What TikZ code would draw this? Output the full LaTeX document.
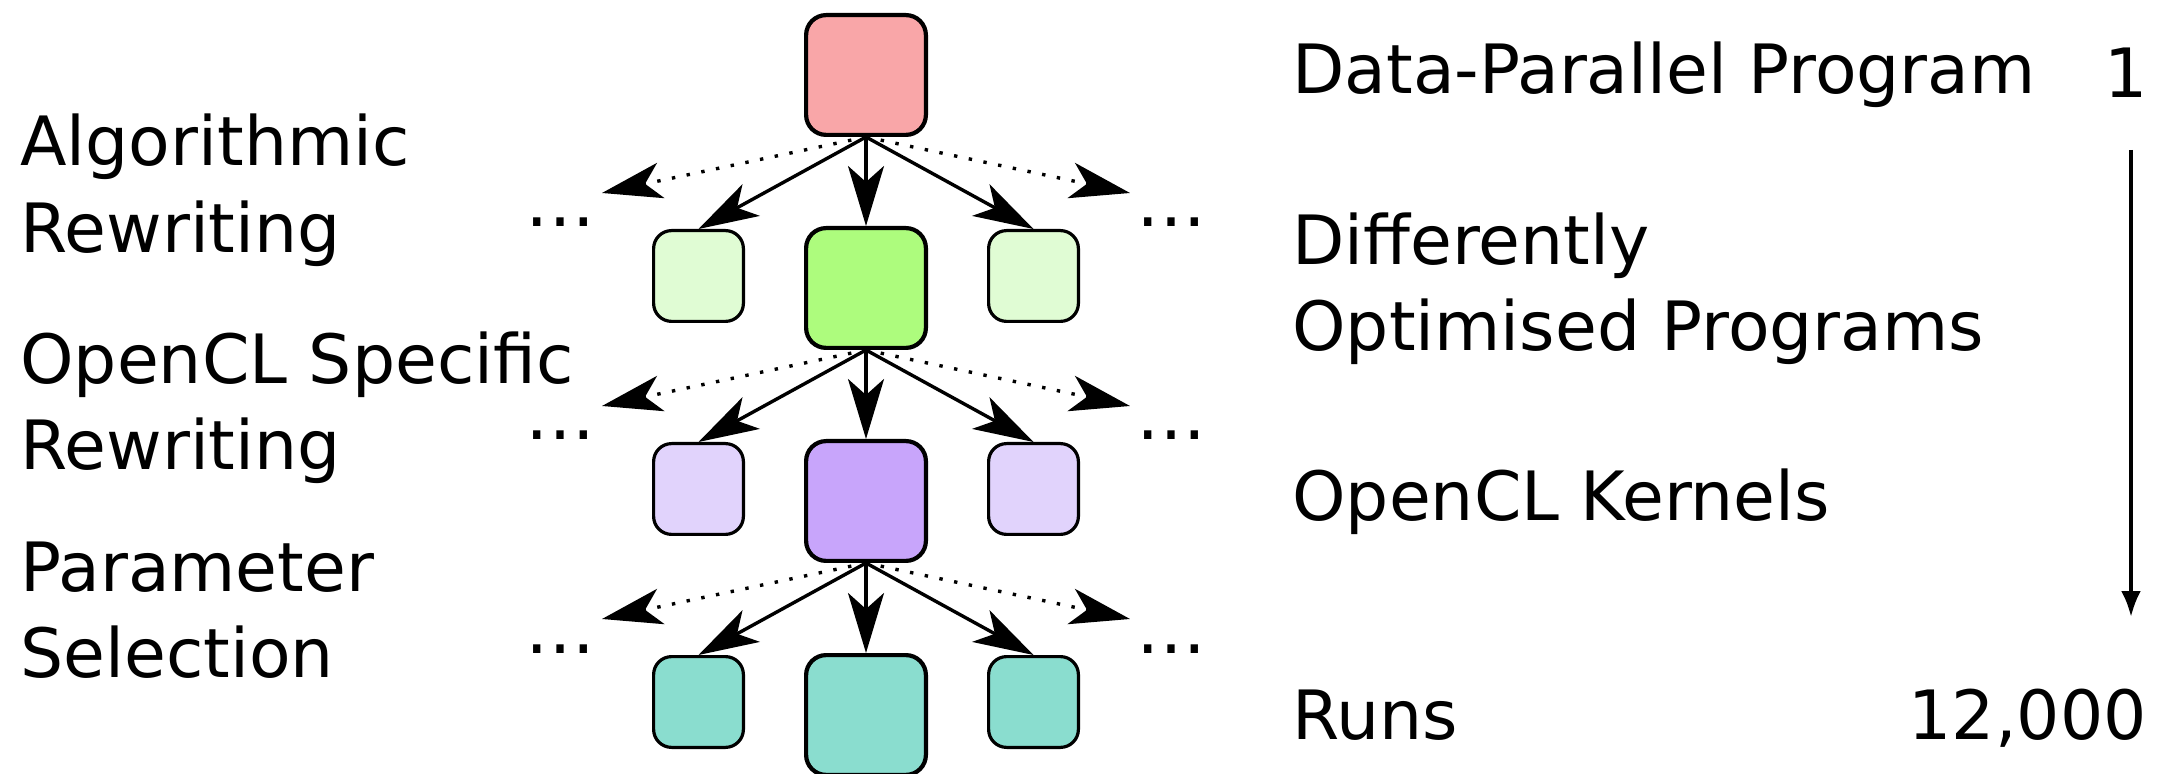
\documentclass[tikz,border=0pt]{standalone}
\usepackage{fontspec}
\setmainfont{DejaVu Sans}
\usetikzlibrary{arrows.meta}
\definecolor{cred}{HTML}{F9A6A8}
\definecolor{cgreen}{HTML}{ADFC7D}
\definecolor{cgreenl}{HTML}{E0FCD4}
\definecolor{cpurp}{HTML}{C8A5FB}
\definecolor{cpurpl}{HTML}{E1D3FC}
\definecolor{cteal}{HTML}{8ADDCF}
\begin{document}
\begin{tikzpicture}[x=0.5pt,y=-0.5pt,
  bigbox/.style={draw,line width=2.1pt,rounded corners=10pt,minimum width=59.9pt,minimum height=59.9pt,inner sep=0pt},
  smallbox/.style={draw,line width=1.6pt,rounded corners=9pt,minimum width=44.9pt,minimum height=45.4pt,inner sep=0pt},
  txt/.style={anchor=base west,inner sep=0pt,font=\fontsize{34pt}{42pt}\selectfont},
  num/.style={anchor=base east,inner sep=0pt,font=\fontsize{34pt}{42pt}\selectfont},
  ell/.style={anchor=base,inner sep=0pt,font=\fontsize{35pt}{43pt}\selectfont},
  conn/.style={line width=1.7pt,-{Stealth[length=30pt,width=18pt,inset=8pt]}},
  dconn/.style={conn,dash pattern=on 1.7pt off 5.8pt},
  flow/.style={line width=2pt,-{Latex[length=13pt,width=10pt]}},
]
\useasboundingbox (0,0) rectangle (2157,774);

% boxes
\node[bigbox,fill=cred] (r0) at (866,75) {};
\node[bigbox,fill=cgreen] (g1) at (866,288) {};
\node[smallbox,fill=cgreenl] (gl) at (698.5,276) {};
\node[smallbox,fill=cgreenl] (gr) at (1033.5,276) {};
\node[bigbox,fill=cpurp] (p2) at (866,501) {};
\node[smallbox,fill=cpurpl] (pl) at (698.5,489) {};
\node[smallbox,fill=cpurpl] (pr) at (1033.5,489) {};
\node[bigbox,fill=cteal] (t3) at (866,715) {};
\node[smallbox,fill=cteal] (tl) at (698.5,702) {};
\node[smallbox,fill=cteal] (tr) at (1033.5,702) {};

% dotted ends
\coordinate (dl1) at (602,193);
\coordinate (dr1) at (1130,193);
\coordinate (dl2) at (602,406);
\coordinate (dr2) at (1130,406);
\coordinate (dl3) at (602,619);
\coordinate (dr3) at (1130,619);

% dotted arrows
\draw[dconn] (r0.south) -- (dl1);
\draw[dconn] (r0.south) -- (dr1);
\draw[dconn] (g1.south) -- (dl2);
\draw[dconn] (g1.south) -- (dr2);
\draw[dconn] (p2.south) -- (dl3);
\draw[dconn] (p2.south) -- (dr3);

% solid arrows
\draw[conn] (r0.south) -- (gl.north);
\draw[conn] (r0.south) -- (g1.north);
\draw[conn] (r0.south) -- (gr.north);
\draw[conn] (g1.south) -- (pl.north);
\draw[conn] (g1.south) -- (p2.north);
\draw[conn] (g1.south) -- (pr.north);
\draw[conn] (p2.south) -- (tl.north);
\draw[conn] (p2.south) -- (t3.north);
\draw[conn] (p2.south) -- (tr.north);

% ellipses
\node[ell] (e1l) at (560.5,227) {…};
\node[ell] (e1r) at (1171.5,227) {…};
\node[ell] (e2l) at (560.5,440) {…};
\node[ell] (e2r) at (1171.5,440) {…};
\node[ell] (e3l) at (560.5,653) {…};
\node[ell] (e3r) at (1171.5,653) {…};

% left labels
\node[txt] (a1) at (20,166) {Algorithmic};
\node[txt] (a2) at (20,253) {Rewriting};
\node[txt] (b1) at (20,384) {OpenCL Specific};
\node[txt] (b2) at (20,470) {Rewriting};
\node[txt] (c1) at (20,591) {Parameter};
\node[txt] (c2) at (20,677) {Selection};

% right labels
\node[txt] (d1) at (1292,94) {Data-Parallel Program};
\node[txt] (d2) at (1292,265) {Differently};
\node[txt] (d3) at (1292,351) {Optimised Programs};
\node[txt] (d4) at (1292,521) {OpenCL Kernels};
\node[txt] (d5) at (1292,739) {Runs};
\node[num] (n1) at (2148,98) {1};
\node[num] (n2) at (2147,739) {12,000};

% flow arrow
\coordinate (fa) at (2131,150);
\coordinate (fb) at (2131,617);
\draw[flow] (fa) -- (fb);
\end{tikzpicture}
\end{document}
